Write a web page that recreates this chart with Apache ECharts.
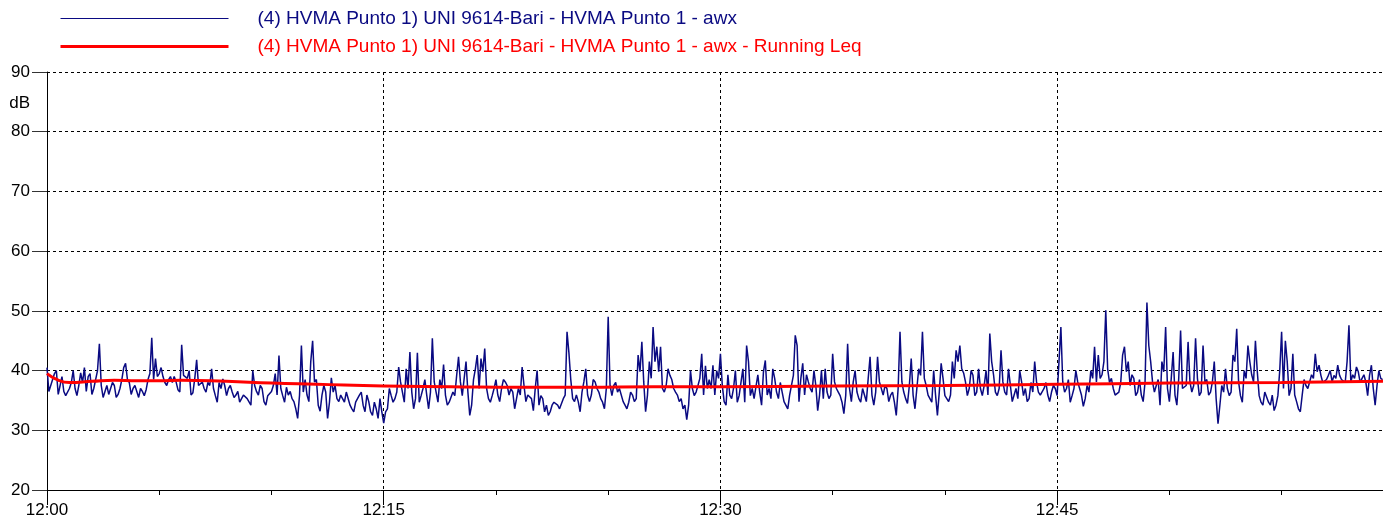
<!DOCTYPE html>
<html>
<head>
<meta charset="utf-8">
<title>HVMA Punto 1 - awx</title>
<script src="https://cdn.jsdelivr.net/npm/echarts@6/dist/echarts.min.js"></script>
<style>
  html, body { margin: 0; padding: 0; background: #fff; }
  #chart { width: 1383px; height: 526px; }
</style>
</head>
<body>
<div id="chart"></div>
<script>
// series names
const awxName = '(4) HVMA Punto 1) UNI 9614-Bari - HVMA Punto 1 - awx'
const leqName = '(4) HVMA Punto 1) UNI 9614-Bari - HVMA Punto 1 - awx - Running Leq'

// awx level read every 10 s from 12:00:00 (dB)
const awxStep = 10
const awxValues = [
  40.5, 36.5, 39.5, 36.0, 39.0, 35.8, 37.0, 40.0, 35.8, 39.6, 40.5, 39.0, 36.0, 38.5, 44.5, 35.5, 37.5,
  35.8, 37.5, 36.0, 38.5, 41.2, 38.0, 37.0, 36.5, 37.0, 35.8, 38.5, 45.5, 42.0, 39.5, 39.0, 37.5, 39.0,
  39.0, 36.8, 44.3, 39.5, 40.0, 36.3, 41.8, 37.5, 37.0, 38.0, 40.3, 35.8, 38.0, 38.6, 35.8, 37.5, 35.5,
  36.5, 34.8, 35.8, 35.3, 40.0, 36.5, 37.5, 34.8, 35.8, 36.5, 39.5, 42.5, 35.8, 37.2, 36.5, 34.8, 32.0,
  44.2, 38.5,
  34.8, 45.0, 38.5, 33.2, 37.5, 32.0, 38.8, 37.5, 34.8, 35.8, 36.4, 34.2, 33.1, 34.8, 36.4, 33.1, 34.8,
  32.5, 33.6, 35.3, 31.2, 33.6, 35.8, 35.3, 40.6, 36.4, 40.3, 43.1, 33.6, 43.0, 35.8, 38.5, 33.6, 45.4,
  36.4, 38.5,
  41.0, 34.2, 34.8, 35.8, 42.3, 35.8, 41.5, 32.5, 38.5, 42.6, 42.0, 43.7, 35.3, 35.8, 38.5, 34.8, 38.5,
  37.5, 37.0, 33.6, 37.0, 40.6, 34.8, 35.8, 33.3, 40.0, 35.8, 33.1, 32.5, 34.2, 34.8, 33.6, 35.3, 46.5,
  38.5, 34.8,
  34.8, 36.4, 40.3, 34.8, 38.5, 37.0, 35.3, 33.6, 49.0, 35.8, 38.0, 37.0, 34.8, 33.6, 36.4, 34.8, 42.6,
  44.8, 33.1, 41.5, 47.3, 44.0, 44.0, 36.4, 40.3, 38.5, 36.4, 34.8, 33.6, 31.8, 40.0, 35.8, 37.5, 42.8,
  40.8, 38.5,
  40.9, 40.0, 42.8, 34.8, 39.3, 35.3, 40.0, 35.8, 40.3, 44.2, 35.8, 35.3, 39.3, 34.2, 41.7, 37.0, 40.3,
  36.4, 38.0, 34.8, 33.6, 35.8, 45.9, 34.8, 41.2, 39.3, 37.0, 40.0, 33.3, 40.0, 40.3, 35.3, 42.8, 37.0,
  35.8, 32.8,
  44.5, 34.8, 40.0, 35.3, 37.0, 34.8, 42.3, 34.2, 42.3, 38.0, 37.5, 34.8, 36.4, 32.5, 46.5, 36.4, 34.5,
  42.0, 33.6, 40.3, 46.5, 37.5, 35.3, 40.0, 32.5, 41.2, 35.8, 34.8, 41.5, 43.4, 44.2, 39.6, 35.8, 40.0,
  35.8,
  40.3, 35.8, 40.0, 46.2, 39.3, 35.8, 43.4, 36.4, 40.3, 34.8, 37.0, 40.0, 35.8, 34.8, 38.0, 41.5, 36.4,
  35.8, 38.0, 34.8, 37.5, 35.8, 47.3, 36.4, 38.5, 35.8, 40.0, 38.0, 34.0, 37.5, 40.0, 44.0, 42.6, 39.3,
  50.1, 38.0,
  37.0, 35.8, 38.0, 44.0, 41.5, 39.3, 35.8, 38.5, 34.8, 51.4, 41.5, 36.4, 38.5, 41.5, 47.3, 34.8, 43.1,
  34.2, 46.7, 37.0, 44.8, 36.4, 45.4, 35.8, 44.2, 38.5, 36.4, 41.5, 31.1, 37.5, 40.3, 35.8, 42.6, 47.0,
  35.8, 40.0,
  44.2, 39.3, 45.0, 35.8, 34.2, 36.4, 34.2, 33.3, 35.8, 46.5, 45.0, 35.8, 42.8, 34.8, 33.1, 38.5, 37.0,
  39.3, 42.8, 40.9, 38.0, 38.5, 40.0, 39.2, 40.9, 38.5, 38.0, 47.6, 39.3, 40.6, 38.0, 39.3, 35.8, 40.9,
  34.2, 40.0, 38.5
]

// awx level read halfway between, at 00:05, 00:15, ... (dB)
const awxMidValues = [
  36.5, 38.5, 40.0, 37.5, 36.5, 36.0, 38.0, 37.0, 37.5, 38.0, 36.5, 39.5, 37.0, 40.0, 37.5, 36.5, 36.0,
  38.0, 35.5, 37.0, 40.5, 38.5, 36.0, 37.5, 35.5, 36.5, 36.8, 39.5, 38.5, 39.0, 40.5, 38.0, 38.5, 38.0,
  38.1, 36.4, 39.2, 38.7, 35.9, 38.7, 37.5, 38.1, 36.4, 37.5, 37.0, 34.7, 37.0, 37.5, 37.0, 36.4, 35.9,
  34.7, 35.9, 35.3, 34.2, 37.5, 35.9, 37.0, 34.2, 35.9, 37.5, 35.9, 37.0, 34.7, 35.9, 35.3, 33.6, 35.9,
  36.4, 35.9,
  41.5, 38.1, 34.2, 35.9, 36.4, 34.7, 36.4, 35.3, 35.9, 34.7, 36.4, 33.6, 34.7, 35.9, 34.2, 35.9, 33.1,
  34.7, 32.0, 33.1, 33.1, 37.0, 34.7, 36.4, 38.1, 34.7, 37.0, 36.4, 35.3, 34.7, 37.0, 35.9, 36.4, 38.1,
  34.7, 37.0,
  35.9, 34.7, 36.4, 39.2, 38.1, 35.9, 36.4, 34.2, 40.3, 37.0, 39.8, 37.0, 34.7, 37.0, 35.9, 37.0, 38.1,
  35.9, 36.4, 35.3, 35.9, 37.5, 35.9, 35.3, 37.0, 34.2, 35.3, 34.2, 33.1, 34.7, 34.2, 33.6, 35.9, 43.0,
  35.3, 35.9,
  33.1, 38.1, 35.9, 35.9, 38.1, 36.4, 34.7, 37.0, 37.5, 37.5, 36.4, 37.0, 34.2, 34.7, 35.9, 35.3, 39.8,
  38.1, 35.9, 38.7, 41.5, 39.8, 37.0, 37.5, 39.2, 37.0, 35.9, 35.3, 34.2, 34.2, 37.0, 36.4, 38.7, 35.9,
  37.0, 37.0,
  35.9, 38.7, 37.5, 34.2, 35.9, 37.0, 34.7, 35.9, 34.7, 41.5, 37.0, 35.3, 36.4, 39.8, 35.9, 35.3, 38.7,
  35.3, 36.4, 34.7, 35.9, 39.2, 44.2, 38.7, 35.9, 38.1, 36.4, 37.5, 35.9, 35.3, 36.4, 35.9, 38.1, 36.4,
  34.7, 35.9,
  37.0, 38.1, 36.4, 34.7, 35.9, 38.7, 35.9, 36.4, 38.1, 35.9, 37.0, 35.9, 34.7, 37.0, 38.1, 35.3, 37.5,
  35.9, 37.0, 39.2, 38.7, 35.9, 34.7, 35.9, 36.4, 38.7, 35.9, 35.9, 38.7, 41.5, 40.3, 38.1, 37.0, 39.2,
  36.4,
  37.0, 37.5, 35.9, 41.5, 36.4, 37.0, 38.1, 35.9, 37.5, 35.9, 35.3, 38.1, 37.0, 35.3, 36.4, 38.1, 35.9,
  37.0, 35.9, 36.4, 37.0, 35.9, 38.1, 37.0, 34.7, 37.0, 38.1, 35.9, 35.3, 36.4, 38.7, 38.1, 38.7, 41.5,
  40.3, 38.7,
  35.9, 36.4, 42.6, 39.8, 37.5, 38.7, 36.4, 35.9, 38.1, 44.2, 38.1, 37.5, 34.2, 39.8, 37.0, 38.7, 35.9,
  38.7, 37.0, 37.5, 38.1, 37.5, 38.7, 36.4, 38.1, 35.9, 38.1, 35.3, 34.2, 36.4, 37.0, 36.4, 41.5, 38.1,
  34.7, 38.7,
  41.5, 38.1, 39.8, 34.7, 36.4, 34.7, 35.9, 34.2, 40.0, 37.0, 41.5, 37.0, 35.9, 33.6, 35.9, 37.5, 38.1,
  38.7, 39.8, 39.2, 38.1, 39.2, 38.1, 38.7, 39.2, 38.7, 41.5, 38.1, 38.7, 39.8, 38.7, 38.1, 39.2, 37.0,
  37.5, 38.7
]

// running Leq, seconds from 12:00 and level (dB)
const leqSeconds = [0, 30, 60, 120, 180, 240, 300, 360, 480, 600, 720, 900, 1080, 1260, 1440, 1620, 1800,
  2100, 2400, 2700, 3000, 3300, 3571]
const leqValues = [39.5, 38.4, 38.0, 38.2, 38.4, 38.3, 38.3, 38.4, 38.2, 37.9, 37.7, 37.4, 37.3, 37.2, 37.2,
  37.3, 37.3, 37.4, 37.5, 37.7, 37.9, 38.0, 38.2]

// axes
const yMin = 20
const yMax = 90
const yStep = 10
const xEndSeconds = 3571   // end of the recorded window (12:59:31)
const xLabelStep = 900     // 15 min
const xMinorStep = 300     // 5 min

const fontFamily = '"Liberation Sans", Arial, sans-serif'
const blue = '#0a0a82'
const red = '#ff0000'

// main readings and half-step readings, in time order
const awxData = []
awxValues.forEach((v, i) => {
  awxData.push([i * awxStep, v])
  if (i < awxMidValues.length) awxData.push([i * awxStep + awxStep / 2, awxMidValues[i]])
})
const leqData = leqSeconds.map((t, i) => [t, leqValues[i]])

// seconds after 12:00 -> "12:mm"
const clockLabel = (sec) => {
  const m = Math.round(sec / 60)
  return '12:' + String(m).padStart(2, '0')
}

const chart = echarts.init(document.getElementById('chart'))

const option = {
  animation: false,
  textStyle: { fontFamily: fontFamily },
  legend: {
    orient: 'vertical',
    left: 54,
    top: 4,
    itemWidth: 168,
    itemHeight: 14,
    itemGap: 9,
    selectedMode: false,
    itemStyle: { opacity: 0 },
    textStyle: { fontSize: 19, fontFamily: fontFamily, padding: [0, 0, 0, 24] },
    data: [
      { name: awxName, textStyle: { color: blue }, lineStyle: { width: 1 } },
      { name: leqName, textStyle: { color: red }, lineStyle: { width: 3 } }
    ]
  },
  grid: {
    left: 47,
    right: 0,
    top: 72,
    bottom: 36,
    containLabel: false
  },
  xAxis: [
    {
      // 15 min grid with labels
      type: 'value',
      min: 0,
      max: xEndSeconds,
      interval: xLabelStep,
      axisLine: { show: true, lineStyle: { color: '#000', width: 1 } },
      axisTick: { show: true, length: 15, lineStyle: { color: '#000' } },
      axisLabel: {
        color: '#000',
        fontSize: 17,
        margin: 12,
        showMaxLabel: false,
        formatter: clockLabel
      },
      splitLine: { show: true, showMaxLine: false, lineStyle: { color: '#000', type: [3, 3], width: 1 } }
    },
    {
      // 5 min small ticks
      type: 'value',
      position: 'bottom',
      min: 0,
      max: xEndSeconds,
      interval: xMinorStep,
      axisLine: { show: false },
      axisTick: { show: true, length: 5, lineStyle: { color: '#000' } },
      axisLabel: { show: false },
      splitLine: { show: false }
    }
  ],
  yAxis: {
    type: 'value',
    min: yMin,
    max: yMax,
    interval: yStep,
    name: 'dB',
    nameLocation: 'end',
    nameGap: -31,
    nameTextStyle: {
      color: '#000',
      fontSize: 17,
      align: 'right',
      verticalAlign: 'middle',
      padding: [0, 17, 0, 0]
    },
    axisLine: { show: true, lineStyle: { color: '#000', width: 1 } },
    axisTick: { show: true, length: 15, lineStyle: { color: '#333' } },
    axisLabel: { color: '#000', fontSize: 17, margin: 17 },
    splitLine: { show: true, lineStyle: { color: '#000', type: [3, 3], width: 1 } }
  },
  series: [
    {
      name: awxName,
      type: 'line',
      xAxisIndex: 0,
      data: awxData,
      symbol: 'none',
      lineStyle: { color: blue, width: 1.5 },
      itemStyle: { color: blue },
      z: 2
    },
    {
      name: leqName,
      type: 'line',
      xAxisIndex: 0,
      data: leqData,
      symbol: 'none',
      smooth: true,
      lineStyle: { color: red, width: 3 },
      itemStyle: { color: red },
      z: 3
    }
  ]
}

chart.setOption(option)
</script>
</body>
</html>
